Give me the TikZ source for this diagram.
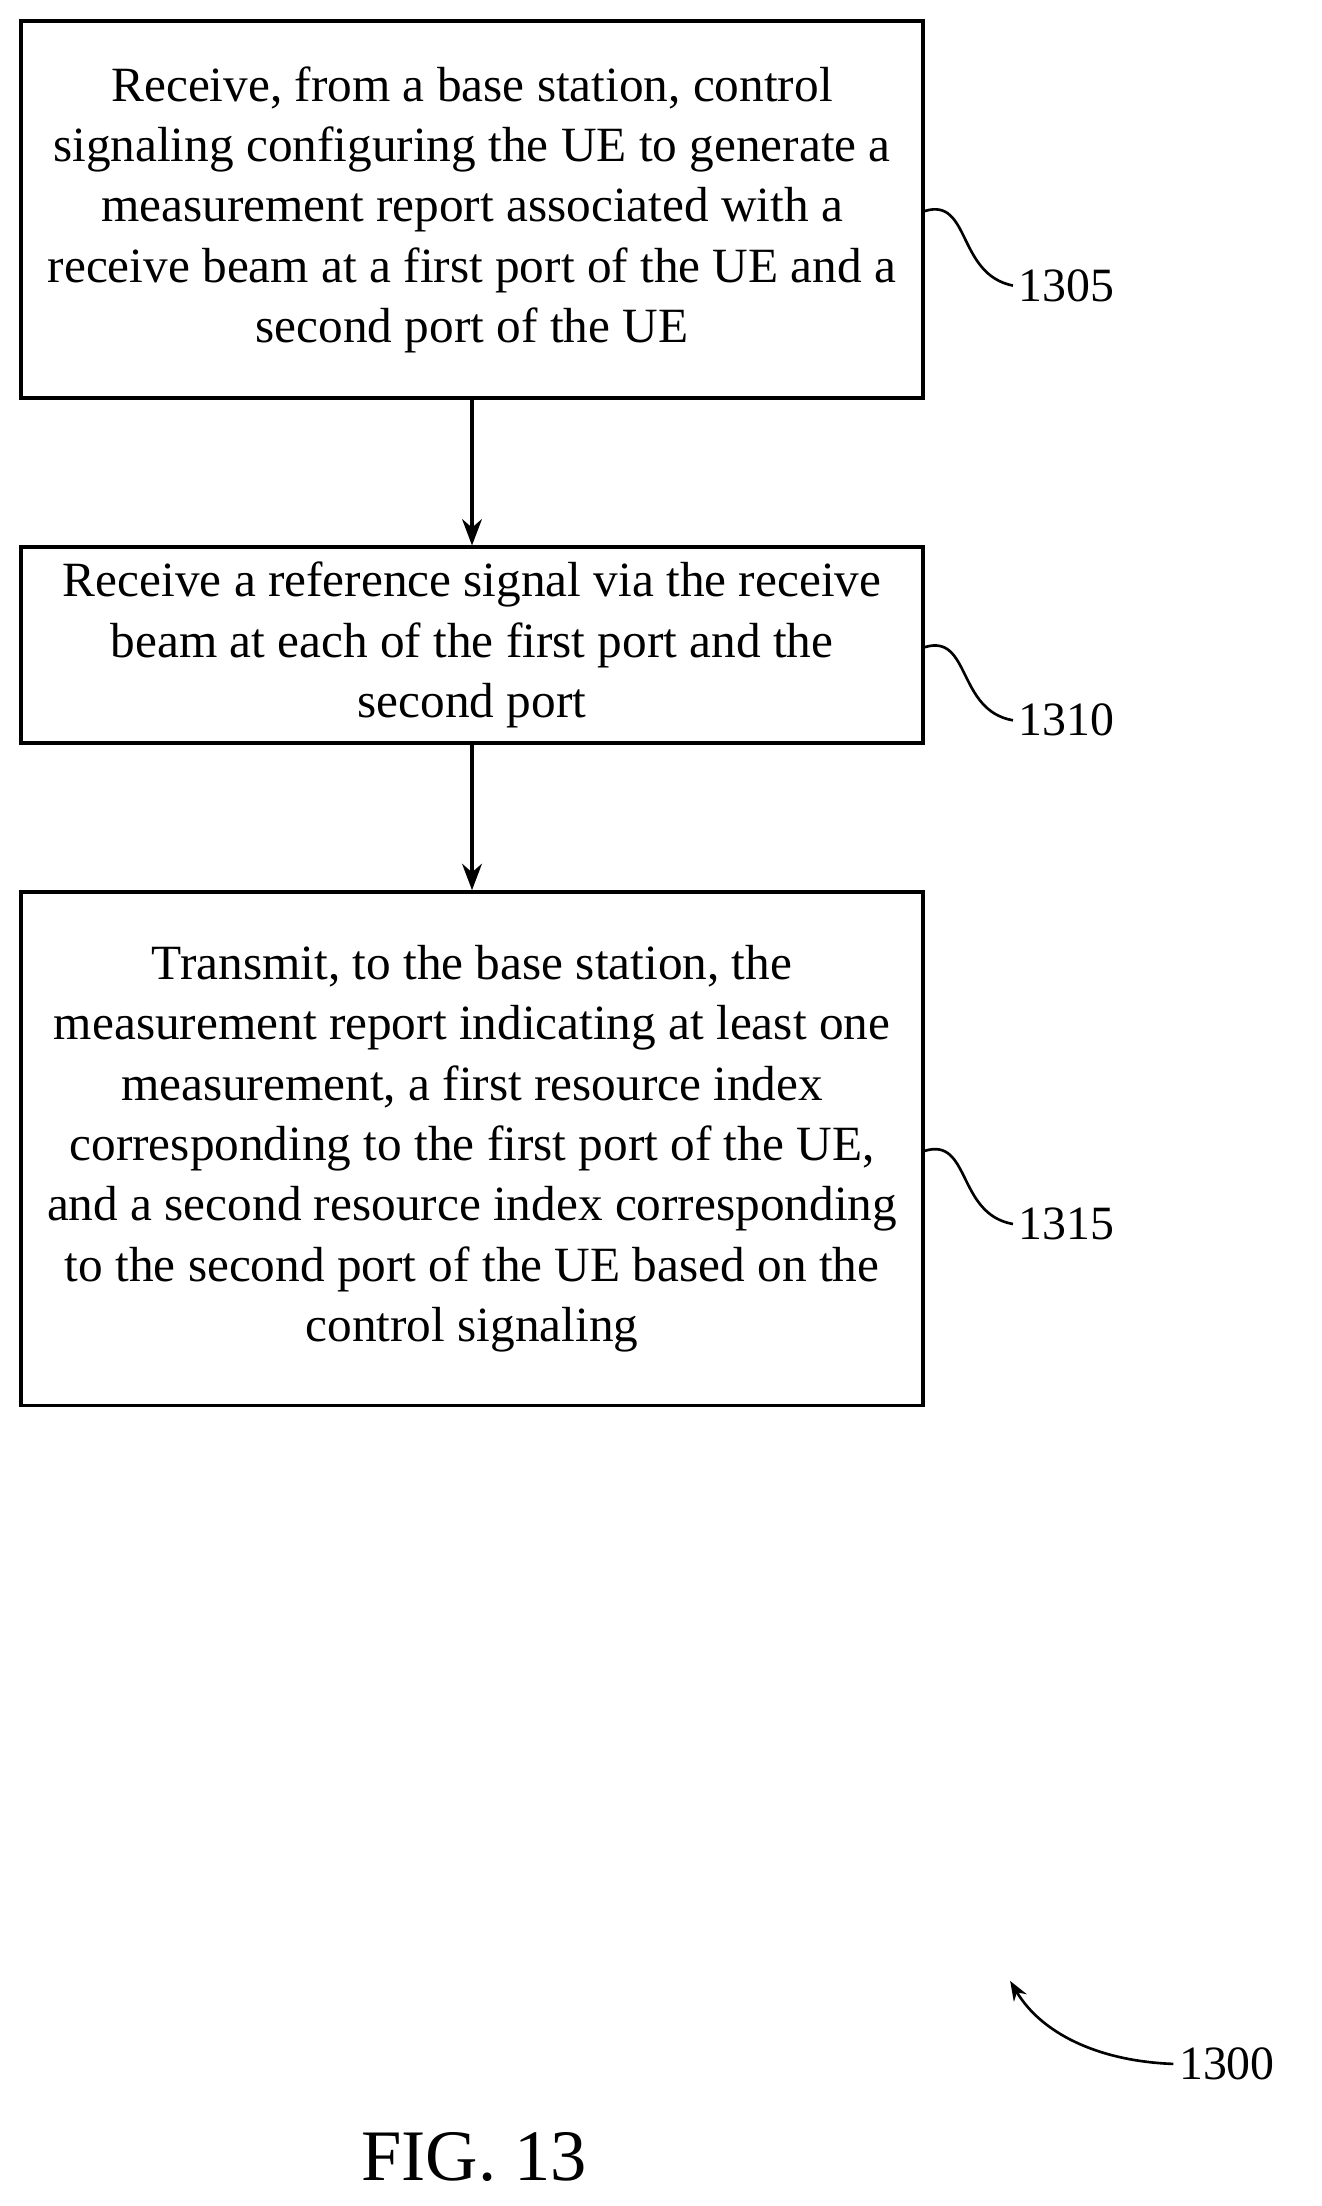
\documentclass[tikz,border=0pt]{standalone}
\usepackage{fontspec}
\setmainfont{Liberation Serif}
\usetikzlibrary{arrows.meta}
\tikzset{
  stepbox/.style={draw,line width=2.2pt,align=center,font=\fontsize{29.9}{36.6}\selectfont},
  ref/.style={font=\fontsize{29}{32}\selectfont},
  flow/.style={line width=2.2pt,-{Stealth[length=16pt,width=12pt]}},
  squig/.style={line width=1.6pt}
}
\begin{document}
\begin{tikzpicture}[x=0.03cm,y=-0.03cm]
\useasboundingbox (0,0) rectangle (939,1568);
% steps
\node[stepbox,minimum width=641*0.03cm,minimum height=268*0.03cm] (s1) at (335.5,149) {Receive, from a base station, control\\signaling configuring the UE to generate a\\measurement report associated with a\\receive beam at a first port of the UE and a\\second port of the UE};
\node[stepbox,minimum width=641*0.03cm,minimum height=139*0.03cm,inner sep=0pt] (s2) at (335.5,458.5) {Receive a reference signal via the receive\\beam at each of the first port and the\\second port};
\node[stepbox,minimum width=641*0.03cm,minimum height=365*0.03cm] (s3) at (335.5,816.5) {Transmit, to the base station, the\\measurement report indicating at least one\\measurement, a first resource index\\corresponding to the first port of the UE,\\and a second resource index corresponding\\to the second port of the UE based on the\\control signaling};
\draw[flow] (s1) -- (s2);
\draw[flow] (s2) -- (s3);
% reference numerals
\node[ref,anchor=west] (r1) at (720,203) {1305};
\node[ref,anchor=west] (r2) at (720,512) {1310};
\node[ref,anchor=west] (r3) at (720,870) {1315};
\draw[squig] (s1.east |- 0,150) .. controls (690,140) and (680,195) .. (r1.west);
\draw[squig] (s2.east |- 0,460) .. controls (690,450) and (680,505) .. (r2.west);
\draw[squig] (s3.east |- 0,818) .. controls (690,808) and (680,863) .. (r3.west);
\node[ref,anchor=west] (r0) at (834,1467) {1300};
\coordinate (a0) at (718,1408);
\draw[line width=1.6pt,-{Stealth[length=12pt,width=9pt]}] (r0.west) .. controls (780,1465) and (740,1445) .. (a0);
\node[font=\fontsize{44}{48}\selectfont] (fig) at (337,1533) {FIG. 13};
\end{tikzpicture}
\end{document}
